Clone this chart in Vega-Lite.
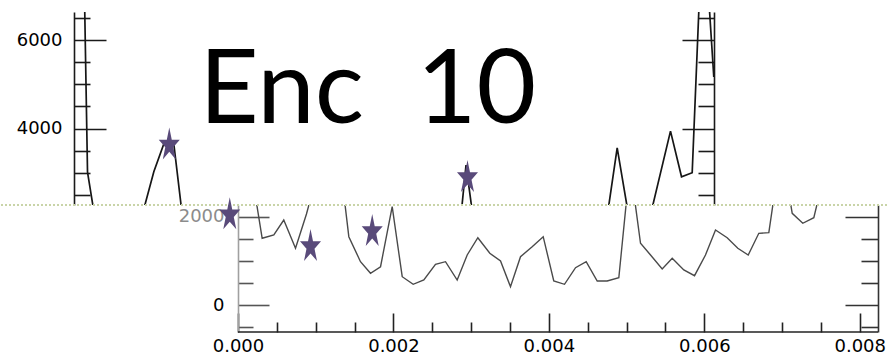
{
  "$schema": "https://vega.github.io/schema/vega-lite/v6.json",
  "padding": {"left": 0, "top": 9, "right": 0, "bottom": 0},
  "autosize": {"type": "pad"},
  "bounds": "flush",
  "spacing": 0,
  "config": {"view": {"stroke": null}, "font": "DejaVu Sans", "axis": {"labelFont": "DejaVu Sans", "grid": false}},
  "datasets": {
    "series": [
      {"t": 0.0000322, "v": 17500}, {"t": 0.000174, "v": 3012}, {"t": 0.000311, "v": 1511}, {"t": 0.000461, "v": 1586},
      {"t": 0.000589, "v": 1925}, {"t": 0.000740, "v": 1284}, {"t": 0.000881, "v": 2061}, {"t": 0.001027, "v": 3019},
      {"t": 0.001152, "v": 3633}, {"t": 0.001280, "v": 3715}, {"t": 0.001426, "v": 1547}, {"t": 0.001576, "v": 981},
      {"t": 0.001705, "v": 718}, {"t": 0.001834, "v": 867}, {"t": 0.001984, "v": 2226}, {"t": 0.002113, "v": 641},
      {"t": 0.002254, "v": 469}, {"t": 0.002391, "v": 566}, {"t": 0.002541, "v": 922}, {"t": 0.002670, "v": 981},
      {"t": 0.002820, "v": 566}, {"t": 0.002949, "v": 1133}, {"t": 0.003086, "v": 1524}, {"t": 0.003240, "v": 1171},
      {"t": 0.003378, "v": 997}, {"t": 0.003506, "v": 414}, {"t": 0.003635, "v": 1094}, {"t": 0.003785, "v": 1320},
      {"t": 0.003927, "v": 1547}, {"t": 0.004063, "v": 544}, {"t": 0.004201, "v": 469}, {"t": 0.004343, "v": 845},
      {"t": 0.004480, "v": 981}, {"t": 0.004622, "v": 544}, {"t": 0.004750, "v": 544}, {"t": 0.004900, "v": 618},
      {"t": 0.005044, "v": 3171}, {"t": 0.005179, "v": 1398}, {"t": 0.005308, "v": 1133}, {"t": 0.005458, "v": 815},
      {"t": 0.005587, "v": 1058}, {"t": 0.005736, "v": 793}, {"t": 0.005874, "v": 664}, {"t": 0.006015, "v": 1133},
      {"t": 0.006144, "v": 1699}, {"t": 0.006294, "v": 1524}, {"t": 0.006431, "v": 1284}, {"t": 0.006565, "v": 1133},
      {"t": 0.006701, "v": 1624}, {"t": 0.006830, "v": 1638}, {"t": 0.006989, "v": 3563}, {"t": 0.007131, "v": 2077},
      {"t": 0.007267, "v": 1851}, {"t": 0.007409, "v": 1977}, {"t": 0.007675, "v": 3941}, {"t": 0.007817, "v": 2906},
      {"t": 0.007954, "v": 2997}, {"t": 0.008093, "v": 8969}, {"t": 0.008232, "v": 5171}
    ],
    "starsTop": [{"t": 0.001226, "v": 3662}, {"t": 0.005063, "v": 2922}],
    "starsBottom": [{"t": -0.000106, "v": 2077}, {"t": 0.000933, "v": 1359}, {"t": 0.001727, "v": 1699}],
    "caption": [{"label": "Enc\u00a0 10", "t": 0.003780, "v": 4122}],
    "cut": [{"a": -0.0030494, "b": 0.008389, "v": 2265}],
    "frame": [{"a": 0, "b": 0.0082347, "v": -611.5}]
  },
  "vconcat": [
    {
      "width": 713,
      "height": 193,
      "resolve": {"axis": {"y": "independent"}},
      "layer": [
        {
          "data": {"name": "series"},
          "mark": {"type": "line", "clip": true, "color": "#161616", "strokeWidth": 1.7},
          "encoding": {
            "x": {"field": "t", "type": "quantitative", "scale": {"domain": [-0.00093926, 0.0082347], "nice": false, "zero": false}, "axis": null},
            "y": {"field": "v", "type": "quantitative", "scale": {"domain": [2265, 6643], "nice": false, "zero": false},
              "axis": {"orient": "left", "offset": -73, "title": null, "values": [2500, 3000, 3500, 4000, 4500, 5000, 5500, 6000, 6500], "format": "d",
                "labelExpr": "datum.value % 2000 === 0 ? datum.label : ''",
                "domainColor": "#1a1a1a", "domainWidth": 1.6, "tickColor": "#1a1a1a", "tickWidth": 1.6,
                "tickSize": {"condition": {"test": "datum.value % 2000 === 0", "value": -32}, "value": -16},
                "labelPadding": 44, "labelFontSize": 18, "labelColor": "#000", "labelFlush": false, "labelOverlap": false}}
          }
        },
        {
          "data": {"name": "series"},
          "mark": {"type": "line", "clip": true, "opacity": 0},
          "encoding": {
            "x": {"field": "t", "type": "quantitative", "scale": {"domain": [-0.00093926, 0.0082347], "nice": false, "zero": false}, "axis": null},
            "y": {"field": "v", "type": "quantitative", "scale": {"domain": [2265, 6643], "nice": false, "zero": false},
              "axis": {"orient": "right", "title": null, "values": [2500, 3000, 3500, 4000, 4500, 5000, 5500, 6000, 6500], "labels": false,
                "domainColor": "#1a1a1a", "domainWidth": 1.6, "tickColor": "#1a1a1a", "tickWidth": 1.6,
                "tickSize": {"condition": {"test": "datum.value % 2000 === 0", "value": -32}, "value": -16}}}
          }
        },
        {
          "data": {"name": "caption"},
          "mark": {"type": "text", "font": "Lato", "fontSize": 103, "align": "center", "baseline": "alphabetic", "color": "#000"},
          "encoding": {
            "x": {"field": "t", "type": "quantitative", "scale": {"domain": [-0.00093926, 0.0082347], "nice": false, "zero": false}, "axis": null},
            "y": {"field": "v", "type": "quantitative", "scale": {"domain": [2265, 6643], "nice": false, "zero": false}, "axis": null},
            "text": {"field": "label"}
          }
        },
        {
          "data": {"name": "starsTop"},
          "mark": {"type": "point", "filled": true, "opacity": 1, "color": "#594a7a", "size": 490,
            "shape": "M0,-1.447L0.2245,-0.341L0.951,-0.341L0.3633,0.342L0.5878,1.447L0,0.764L-0.5878,1.447L-0.3633,0.342L-0.951,-0.341L-0.2245,-0.341Z"},
          "encoding": {
            "x": {"field": "t", "type": "quantitative", "scale": {"domain": [-0.00093926, 0.0082347], "nice": false, "zero": false}, "axis": null},
            "y": {"field": "v", "type": "quantitative", "scale": {"domain": [2265, 6643], "nice": false, "zero": false}, "axis": null}
          }
        }
      ]
    },
    {
      "width": 877,
      "height": 127,
      "resolve": {"axis": {"y": "independent"}},
      "layer": [
        {
          "data": {"name": "series"},
          "mark": {"type": "line", "clip": true, "color": "#4a4a4a", "strokeWidth": 1.4},
          "encoding": {
            "x": {"field": "t", "type": "quantitative", "scale": {"domain": [-0.0030494, 0.0082347], "nice": false, "zero": false},
              "axis": {"orient": "bottom", "title": null, "domain": false,
                "values": [0, 0.0005, 0.001, 0.0015, 0.002, 0.0025, 0.003, 0.0035, 0.004, 0.0045, 0.005, 0.0055, 0.006, 0.0065, 0.007, 0.0075, 0.008],
                "format": ".3f", "labelExpr": "round(datum.value * 10000) % 20 === 0 ? datum.label : ''",
                "tickColor": "#222", "tickWidth": 1.6,
                "tickSize": {"condition": {"test": "round(datum.value * 10000) % 20 === 0", "value": -19}, "value": -10},
                "labelPadding": 24, "labelFontSize": 18, "labelColor": "#000", "labelFlush": false, "labelOverlap": false}},
            "y": {"field": "v", "type": "quantitative", "scale": {"domain": [-611.5, 2265], "nice": false, "zero": false},
              "axis": {"orient": "left", "offset": -237, "title": null, "values": [-500, 0, 500, 1000, 1500, 2000], "format": "d",
                "labelExpr": "datum.value % 2000 === 0 ? datum.label : ''",
                "domainColor": "#a0a0a0", "domainWidth": 1.6, "tickColor": "#555", "tickWidth": 1.6,
                "tickSize": {"condition": {"test": "datum.value % 2000 === 0", "value": -31}, "value": -15},
                "labelColor": {"condition": {"test": "datum.value === 2000", "value": "#8c8c8c"}, "value": "#000"},
                "labelPadding": 45, "labelFontSize": 18, "labelFlush": false, "labelOverlap": false}}
          }
        },
        {
          "data": {"name": "series"},
          "mark": {"type": "line", "clip": true, "opacity": 0},
          "encoding": {
            "x": {"field": "t", "type": "quantitative", "scale": {"domain": [-0.0030494, 0.0082347], "nice": false, "zero": false}},
            "y": {"field": "v", "type": "quantitative", "scale": {"domain": [-611.5, 2265], "nice": false, "zero": false},
              "axis": {"orient": "right", "title": null, "values": [-500, 0, 500, 1000, 1500, 2000], "labels": false,
                "domainColor": "#333", "domainWidth": 1.6, "tickColor": "#333", "tickWidth": 1.6,
                "tickSize": {"condition": {"test": "datum.value % 2000 === 0", "value": -33}, "value": -17}}}
          }
        },
        {
          "data": {"name": "frame"},
          "mark": {"type": "rule", "color": "#222", "strokeWidth": 1.6},
          "encoding": {
            "x": {"field": "a", "type": "quantitative", "scale": {"domain": [-0.0030494, 0.0082347], "nice": false, "zero": false}},
            "x2": {"field": "b"},
            "y": {"field": "v", "type": "quantitative", "scale": {"domain": [-611.5, 2265], "nice": false, "zero": false}, "axis": null}
          }
        },
        {
          "data": {"name": "cut"},
          "mark": {"type": "rule", "color": "#c9d4a8", "strokeWidth": 1.8, "strokeDash": [2, 2]},
          "encoding": {
            "x": {"field": "a", "type": "quantitative", "scale": {"domain": [-0.0030494, 0.0082347], "nice": false, "zero": false}},
            "x2": {"field": "b"},
            "y": {"field": "v", "type": "quantitative", "scale": {"domain": [-611.5, 2265], "nice": false, "zero": false}, "axis": null}
          }
        },
        {
          "data": {"name": "starsBottom"},
          "mark": {"type": "point", "filled": true, "opacity": 1, "color": "#594a7a", "size": 490,
            "shape": "M0,-1.447L0.2245,-0.341L0.951,-0.341L0.3633,0.342L0.5878,1.447L0,0.764L-0.5878,1.447L-0.3633,0.342L-0.951,-0.341L-0.2245,-0.341Z"},
          "encoding": {
            "x": {"field": "t", "type": "quantitative", "scale": {"domain": [-0.0030494, 0.0082347], "nice": false, "zero": false}},
            "y": {"field": "v", "type": "quantitative", "scale": {"domain": [-611.5, 2265], "nice": false, "zero": false}, "axis": null}
          }
        }
      ]
    }
  ]
}
